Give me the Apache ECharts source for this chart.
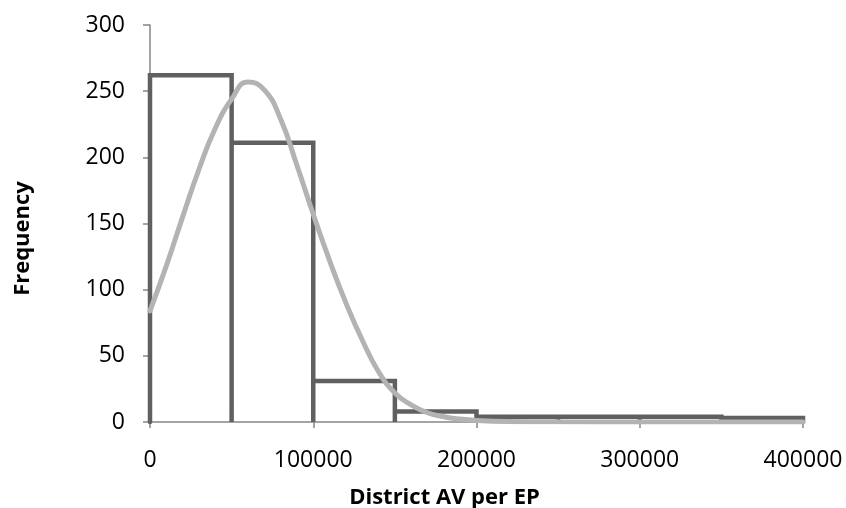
<!DOCTYPE html>
<html>
<head>
<meta charset="utf-8">
<script src="https://cdn.jsdelivr.net/npm/echarts@6/dist/echarts.min.js"></script>
<style>
html,body{margin:0;padding:0;background:#fff;}
#chart{width:846px;height:508px;}
</style>
</head>
<body>
<div id="chart"></div>
<script>
// Histogram bins (edges) and counts
var binEdges = [0, 50000, 100000, 150000, 200000, 250000, 300000, 350000, 400000];
var binCounts = [262, 211, 31, 8, 4, 4, 4, 3];

// Fitted normal curve
var curveX = [0, 10000, 20000, 30000, 40000, 50000, 60000, 70000, 80000, 90000, 100000,
  110000, 120000, 130000, 140000, 150000, 160000, 170000, 180000, 190000, 200000,
  220000, 250000, 300000, 350000, 400000];
var curveY = [84, 118, 155, 191, 222, 244, 257, 251, 229, 194, 157,
  122, 90, 62, 38, 22, 13, 7, 4, 2.2, 1.2,
  0.4, 0.1, 0, 0, 0];

var xTicks = [0, 100000, 200000, 300000, 400000];
var yTicks = [0, 50, 100, 150, 200, 250, 300];

// Build histogram outline path from bins
var histPath = [];
for (var i = 0; i < binCounts.length; i++) {
  histPath.push([binEdges[i], 0]);
  histPath.push([binEdges[i], binCounts[i]]);
  histPath.push([binEdges[i + 1], binCounts[i]]);
}
histPath.push([binEdges[binEdges.length - 1], 0]);

var curveData = curveX.map(function (x, i) { return [x, curveY[i]]; });

var chart = echarts.init(document.getElementById('chart'), null, {renderer: 'canvas'});
var FONT = 'Open Sans';
chart.setOption({
  animation: false,
  backgroundColor: '#ffffff',
  grid: {left: 150, right: 43, top: 25, bottom: 86, containLabel: false, outerBoundsMode: 'none'},
  xAxis: {
    type: 'value',
    min: xTicks[0], max: xTicks[xTicks.length - 1], interval: 100000,
    name: 'District AV per EP',
    nameLocation: 'middle',
    nameGap: 65,
    nameTextStyle: {fontFamily: FONT, fontWeight: 'bold', fontSize: 22, color: '#000',
      padding: [0, 64, 0, 0]},
    axisLine: {show: true, lineStyle: {color: '#868686', width: 1.5}},
    axisTick: {show: true, length: 6, lineStyle: {color: '#868686', width: 1.5}},
    axisLabel: {fontFamily: FONT, fontSize: 23, color: '#000', margin: 27,
      formatter: function (v) { return String(v); }},
    splitLine: {show: false}
  },
  yAxis: {
    type: 'value',
    min: yTicks[0], max: yTicks[yTicks.length - 1], interval: 50,
    name: 'Frequency',
    nameLocation: 'middle',
    nameGap: 116,
    nameRotate: 90,
    nameTextStyle: {fontFamily: FONT, fontWeight: 'bold', fontSize: 22, color: '#000',
      padding: [0, 30, 0, 0]},
    axisLine: {show: true, lineStyle: {color: '#868686', width: 1.5}},
    axisTick: {show: true, length: 7, lineStyle: {color: '#868686', width: 1.5}},
    axisLabel: {fontFamily: FONT, fontSize: 23, color: '#000', margin: 25,
      formatter: function (v) { return String(v); }},
    splitLine: {show: false}
  },
  series: [
    {
      type: 'line',
      data: histPath,
      symbol: 'none',
      lineStyle: {color: '#606060', width: 4.5, cap: 'round', join: 'miter'},
      z: 2
    },
    {
      type: 'line',
      data: curveData,
      smooth: true,
      symbol: 'none',
      lineStyle: {color: '#b3b3b3', width: 5, cap: 'round'},
      z: 3
    }
  ]
});
</script>
</body>
</html>
